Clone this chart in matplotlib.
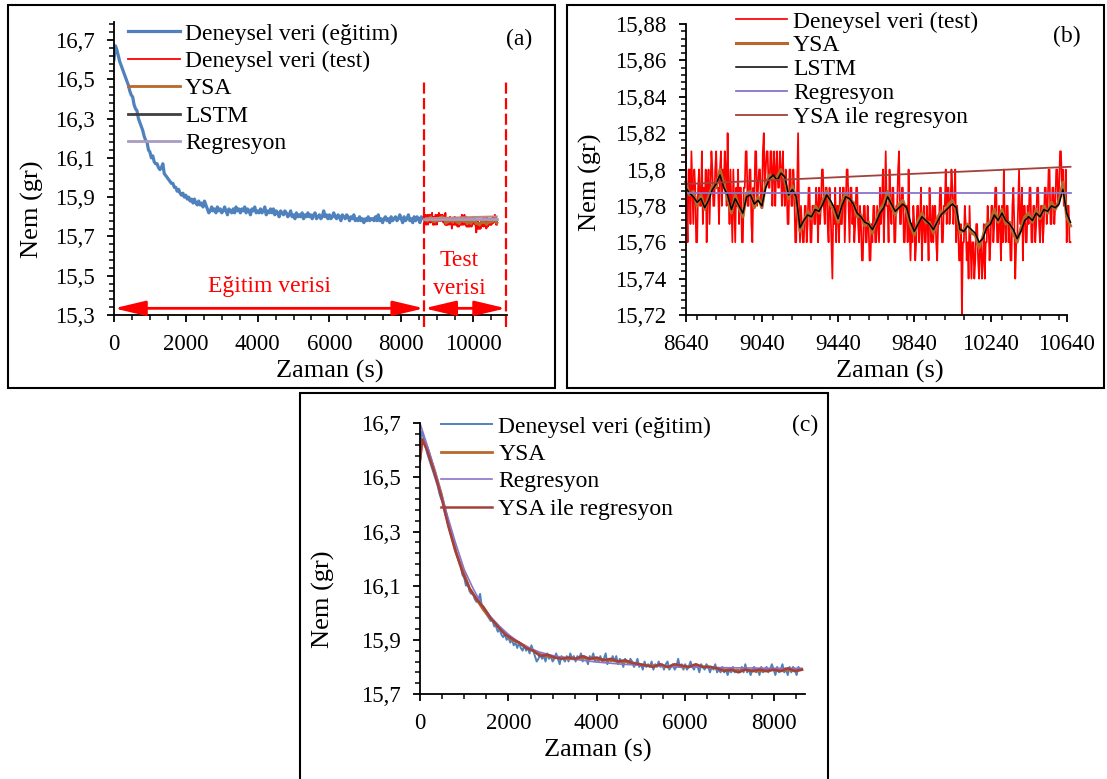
import numpy as np
import matplotlib
matplotlib.use("Agg")
import matplotlib.pyplot as plt
from matplotlib.patches import Rectangle
from matplotlib.ticker import FixedLocator, MultipleLocator, FuncFormatter

plt.rcParams["font.family"] = ["Liberation Serif", "DejaVu Serif"]

W, H = 1107, 779

# ---- training data (0-8640 s, every 40 s) ----
train_t = np.arange(0, 8641, 40)
train_vals = [
    16.60, 16.67, 16.65, 16.62, 16.59, 16.57, 16.55, 16.53, 16.51, 16.49,
    16.47, 16.44, 16.42, 16.41, 16.37, 16.35, 16.34, 16.30, 16.28, 16.26,
    16.24, 16.21, 16.19, 16.18, 16.14, 16.13, 16.10, 16.11, 16.08, 16.07,
    16.07, 16.05, 16.04, 16.05, 16.07, 16.02, 16.01, 16.00, 15.99, 15.98,
    15.97, 15.97, 15.95, 15.95, 15.93, 15.94, 15.92, 15.91, 15.92, 15.90,
    15.91, 15.89, 15.90, 15.88, 15.89, 15.87, 15.89, 15.87, 15.86, 15.88,
    15.86, 15.87, 15.85, 15.88, 15.86, 15.84, 15.82, 15.83, 15.85, 15.83,
    15.84, 15.82, 15.85, 15.83, 15.84, 15.82, 15.83, 15.85, 15.83, 15.81,
    15.84, 15.83, 15.82, 15.84, 15.82, 15.85, 15.83, 15.84, 15.82, 15.84,
    15.83, 15.85, 15.82, 15.84, 15.83, 15.81, 15.84, 15.83, 15.85, 15.82,
    15.83, 15.82, 15.84, 15.82, 15.83, 15.85, 15.81, 15.83, 15.82, 15.84,
    15.82, 15.84, 15.81, 15.83, 15.82, 15.80, 15.83, 15.82, 15.81, 15.83,
    15.82, 15.80, 15.81, 15.83, 15.80, 15.81, 15.79, 15.82, 15.80, 15.81,
    15.80, 15.82, 15.79, 15.81, 15.80, 15.82, 15.80, 15.81, 15.79, 15.81,
    15.82, 15.79, 15.80, 15.81, 15.79, 15.80, 15.83, 15.80, 15.81, 15.79,
    15.81, 15.79, 15.80, 15.82, 15.80, 15.79, 15.81, 15.80, 15.78, 15.81,
    15.80, 15.79, 15.81, 15.80, 15.78, 15.80, 15.79, 15.81, 15.78, 15.79,
    15.78, 15.80, 15.78, 15.79, 15.77, 15.79, 15.78, 15.80, 15.78, 15.79,
    15.79, 15.78, 15.80, 15.78, 15.81, 15.78, 15.79, 15.77, 15.79, 15.80,
    15.78, 15.79, 15.77, 15.80, 15.78, 15.79, 15.80, 15.78, 15.79, 15.81,
    15.79, 15.77, 15.80, 15.78, 15.79, 15.81, 15.78, 15.79, 15.77, 15.80,
    15.78, 15.80, 15.79, 15.77, 15.80, 15.79, 15.79,
]

# ---- models on training range (panel c) ----
fit_t = [0, 50] + list(range(160, 8641, 160))
ysa_reg_train = [
    16.56, 16.64,
    16.60, 16.52, 16.43, 16.32, 16.23, 16.15, 16.09, 16.05, 16.02,
    15.98, 15.95, 15.92, 15.905, 15.89, 15.87, 15.86, 15.84, 15.845, 15.835,
    15.83, 15.835, 15.83, 15.84, 15.83, 15.835, 15.825, 15.83, 15.82, 15.825,
    15.815, 15.81, 15.805, 15.80, 15.81, 15.80, 15.81, 15.805, 15.80, 15.81,
    15.80, 15.80, 15.795, 15.785, 15.79, 15.78, 15.79, 15.785, 15.79, 15.785,
    15.79, 15.785, 15.795, 15.785, 15.79,
]
ysa_train = [
    16.57, 16.64,
    16.61, 16.53, 16.44, 16.33, 16.23, 16.16, 16.09, 16.05, 16.01,
    15.98, 15.95, 15.925, 15.90, 15.89, 15.875, 15.86, 15.845, 15.84, 15.835,
    15.835, 15.83, 15.83, 15.835, 15.83, 15.83, 15.825, 15.825, 15.82, 15.82,
    15.815, 15.81, 15.805, 15.805, 15.805, 15.80, 15.805, 15.80, 15.80, 15.805,
    15.80, 15.80, 15.795, 15.79, 15.79, 15.785, 15.79, 15.785, 15.785, 15.785,
    15.79, 15.785, 15.79, 15.785, 15.79,
]
reg_train_t = [0, 200, 400, 600, 800, 1000, 1200, 1400, 1600, 1800, 2000, 2200,
               2400, 2700, 3000, 3500, 4000, 4500, 5000, 5500, 6000, 7000, 8000, 8640]
reg_train = [16.70, 16.60, 16.49, 16.37, 16.26, 16.16, 16.09, 16.03, 15.985, 15.95,
             15.92, 15.895, 15.875, 15.855, 15.842, 15.828, 15.818, 15.811, 15.806,
             15.802, 15.80, 15.797, 15.795, 15.795]

# ---- test data (8640-10660 s, every 5 s) ----
test_t = np.arange(8640, 10661, 5)
test_vals = [
    15.81, 15.78, 15.76, 15.80, 15.80, 15.77, 15.81, 15.79, 15.77, 15.80, 15.79, 15.76, 15.76, 15.79, 15.80, 15.78, 15.78, 15.81, 15.77, 15.79,
    15.78, 15.80, 15.76, 15.79, 15.80, 15.77, 15.79, 15.81, 15.80, 15.78, 15.78, 15.80, 15.81, 15.79, 15.79, 15.77, 15.80, 15.81, 15.78, 15.80,
    15.79, 15.81, 15.80, 15.78, 15.82, 15.79, 15.77, 15.80, 15.78, 15.76, 15.80, 15.78, 15.76, 15.79, 15.78, 15.80, 15.77, 15.79, 15.79, 15.76,
    15.76, 15.79, 15.79, 15.81, 15.81, 15.78, 15.78, 15.80, 15.80, 15.77, 15.76, 15.79, 15.78, 15.81, 15.81, 15.78, 15.79, 15.80, 15.80, 15.78,
    15.78, 15.81, 15.82, 15.79, 15.80, 15.81, 15.81, 15.79, 15.79, 15.81, 15.81, 15.78, 15.80, 15.81, 15.78, 15.80, 15.81, 15.79, 15.79, 15.81,
    15.80, 15.78, 15.81, 15.79, 15.78, 15.80, 15.79, 15.77, 15.77, 15.80, 15.80, 15.78, 15.78, 15.80, 15.79, 15.76, 15.76, 15.79, 15.82, 15.78,
    15.76, 15.78, 15.77, 15.76, 15.76, 15.78, 15.78, 15.76, 15.77, 15.79, 15.79, 15.76, 15.76, 15.78, 15.78, 15.77, 15.77, 15.79, 15.78, 15.76,
    15.79, 15.77, 15.78, 15.80, 15.80, 15.78, 15.77, 15.79, 15.79, 15.77, 15.76, 15.79, 15.78, 15.76, 15.74, 15.78, 15.77, 15.79, 15.76, 15.78,
    15.78, 15.76, 15.79, 15.77, 15.77, 15.79, 15.79, 15.76, 15.78, 15.80, 15.80, 15.78, 15.76, 15.79, 15.79, 15.77, 15.78, 15.76, 15.77, 15.79,
    15.79, 15.77, 15.76, 15.78, 15.77, 15.75, 15.75, 15.78, 15.78, 15.76, 15.76, 15.78, 15.77, 15.75, 15.75, 15.77, 15.76, 15.78, 15.78, 15.76,
    15.76, 15.78, 15.77, 15.76, 15.79, 15.77, 15.78, 15.80, 15.76, 15.78, 15.81, 15.78, 15.78, 15.76, 15.80, 15.78, 15.77, 15.79, 15.79, 15.76,
    15.76, 15.78, 15.78, 15.80, 15.81, 15.77, 15.77, 15.79, 15.79, 15.76, 15.76, 15.78, 15.78, 15.76, 15.80, 15.77, 15.75, 15.77, 15.76, 15.78,
    15.77, 15.75, 15.76, 15.78, 15.78, 15.76, 15.77, 15.79, 15.75, 15.77, 15.78, 15.76, 15.76, 15.78, 15.77, 15.75, 15.79, 15.77, 15.76, 15.78,
    15.76, 15.78, 15.78, 15.76, 15.75, 15.77, 15.77, 15.79, 15.79, 15.76, 15.76, 15.78, 15.78, 15.80, 15.77, 15.79, 15.79, 15.77, 15.78, 15.80,
    15.79, 15.77, 15.78, 15.80, 15.76, 15.78, 15.77, 15.75, 15.75, 15.77, 15.72, 15.76, 15.76, 15.78, 15.77, 15.75, 15.76, 15.74, 15.78, 15.76,
    15.74, 15.76, 15.76, 15.74, 15.75, 15.77, 15.77, 15.75, 15.74, 15.76, 15.76, 15.74, 15.75, 15.77, 15.74, 15.76, 15.76, 15.78, 15.77, 15.75,
    15.76, 15.78, 15.78, 15.76, 15.77, 15.79, 15.79, 15.76, 15.76, 15.78, 15.77, 15.75, 15.78, 15.76, 15.80, 15.77, 15.76, 15.78, 15.78, 15.76,
    15.77, 15.75, 15.75, 15.78, 15.79, 15.77, 15.74, 15.76, 15.76, 15.78, 15.80, 15.77, 15.77, 15.79, 15.75, 15.78, 15.78, 15.76, 15.76, 15.78,
    15.77, 15.79, 15.79, 15.76, 15.76, 15.78, 15.78, 15.76, 15.77, 15.79, 15.79, 15.77, 15.76, 15.78, 15.78, 15.76, 15.77, 15.79, 15.79, 15.77,
    15.78, 15.80, 15.80, 15.77, 15.77, 15.79, 15.79, 15.77, 15.78, 15.80, 15.80, 15.78, 15.79, 15.81, 15.81, 15.79, 15.80, 15.78, 15.78, 15.80,
    15.76, 15.78, 15.78, 15.76, 15.76,
]

# ---- models on test range (every 20 s) ----
pred_t = np.arange(8640, 10661, 20)
lstm_test = [
    15.790, 15.787, 15.785, 15.782, 15.784, 15.779, 15.783, 15.789, 15.792, 15.797,
    15.790, 15.786, 15.778, 15.784, 15.780, 15.776, 15.785, 15.786, 15.781, 15.783,
    15.780, 15.790, 15.795, 15.797, 15.794, 15.798, 15.796, 15.786, 15.789, 15.785,
    15.768, 15.772, 15.775, 15.774, 15.778, 15.777, 15.781, 15.786, 15.783, 15.779,
    15.773, 15.780, 15.785, 15.784, 15.781, 15.776, 15.774, 15.771, 15.770, 15.767,
    15.771, 15.776, 15.779, 15.785, 15.781, 15.777, 15.779, 15.781, 15.779, 15.771,
    15.766, 15.770, 15.774, 15.772, 15.770, 15.767, 15.771, 15.775, 15.777, 15.779,
    15.781, 15.779, 15.767, 15.766, 15.769, 15.767, 15.765, 15.760, 15.762, 15.768,
    15.770, 15.775, 15.772, 15.776, 15.772, 15.770, 15.767, 15.762, 15.766, 15.772,
    15.774, 15.772, 15.776, 15.774, 15.778, 15.777, 15.780, 15.779, 15.781, 15.789,
    15.776, 15.771,
]
ysa_test = [
    15.793, 15.786, 15.788, 15.780, 15.786, 15.778, 15.785, 15.791, 15.790, 15.800,
    15.792, 15.784, 15.776, 15.786, 15.779, 15.774, 15.787, 15.788, 15.779, 15.785,
    15.779, 15.792, 15.797, 15.795, 15.796, 15.800, 15.794, 15.784, 15.791, 15.783,
    15.766, 15.771, 15.777, 15.773, 15.780, 15.776, 15.783, 15.788, 15.781, 15.777,
    15.771, 15.782, 15.787, 15.783, 15.782, 15.774, 15.775, 15.769, 15.771, 15.765,
    15.772, 15.778, 15.781, 15.788, 15.780, 15.775, 15.781, 15.783, 15.777, 15.769,
    15.764, 15.772, 15.776, 15.771, 15.771, 15.765, 15.773, 15.777, 15.776, 15.781,
    15.783, 15.777, 15.765, 15.767, 15.770, 15.765, 15.764, 15.757, 15.763, 15.770,
    15.771, 15.778, 15.771, 15.778, 15.770, 15.771, 15.765, 15.760, 15.768, 15.774,
    15.776, 15.771, 15.778, 15.773, 15.780, 15.776, 15.782, 15.778, 15.783, 15.793,
    15.774, 15.769,
]
reg_test_t = [8640, 10660]
reg_test = [15.787, 15.787]
ysa_reg_test = [15.792, 15.8015]

# ---- axis ticks ----
a_xticks = [0, 2000, 4000, 6000, 8000, 10000]
a_yticks = [15.3, 15.5, 15.7, 15.9, 16.1, 16.3, 16.5, 16.7]
b_xticks = [8640, 9040, 9440, 9840, 10240, 10640]
b_yticks = [15.72, 15.74, 15.76, 15.78, 15.80, 15.82, 15.84, 15.86, 15.88]
c_xticks = [0, 2000, 4000, 6000, 8000]
c_yticks = [15.7, 15.9, 16.1, 16.3, 16.5, 16.7]

BLUE = "#4F81BD"
RED = "#FF0000"
BROWN = "#B8682A"
PURPLE = "#8B73C9"
DARKRED = "#A3403A"

TICK_FS = 16.5
LABEL_FS = 19
LEG_FS = 17


def comma(v, pos):
    s = ("%.3f" % v).rstrip("0").rstrip(".")
    return s.replace(".", ",")


def px_axes(fig, x0, x1, y0, y1):
    # x0,x1,y0,y1 in image pixels (y from top)
    return fig.add_axes([x0 / W, 1 - y1 / H, (x1 - x0) / W, (y1 - y0) / H])


def style(ax, xt, yt, xminor, yminor):
    for s in ["top", "right"]:
        ax.spines[s].set_visible(False)
    for s in ["left", "bottom"]:
        ax.spines[s].set_linewidth(1.3)
    ax.xaxis.set_major_locator(FixedLocator(xt))
    ax.yaxis.set_major_locator(FixedLocator(yt))
    ax.xaxis.set_minor_locator(xminor)
    ax.yaxis.set_minor_locator(yminor)
    ax.yaxis.set_major_formatter(FuncFormatter(comma))
    ax.tick_params(which="major", direction="out", length=5, width=1.3,
                   labelsize=TICK_FS, pad=9)
    ax.tick_params(which="minor", direction="out", length=3.5, width=1.1)


def text_px(fig, x, y, s, **kw):
    fig.text(x / W, 1 - y / H, s, **kw)


fig = plt.figure(figsize=(W / 100, H / 100), dpi=100)

# panel frames
for x0, y0, x1, y1 in [(8, 5, 555, 388), (567, 5, 1104, 388), (300, 393, 828, 795)]:
    fig.add_artist(Rectangle((x0 / W, 1 - y1 / H), (x1 - x0) / W, (y1 - y0) / H,
                             transform=fig.transFigure, fill=False, lw=1.5,
                             ec="black", clip_on=False))

# ---------------- (a) ----------------
ax = px_axes(fig, 114, 507.5, 22.3, 315)
ax.plot(train_t, train_vals, color=BLUE, lw=2.3, label="Deneysel veri (eğitim)")
ax.plot(test_t, test_vals, color=RED, lw=1.3, label="Deneysel veri (test)")
ax.plot(pred_t, ysa_test, color=BROWN, lw=2.0, label="YSA")
ax.plot(pred_t, lstm_test, color="#404040", lw=2.0, label="LSTM", zorder=1.9)
ax.plot(reg_test_t, reg_test, color="#A99BC4", lw=2.0, label="Regresyon")
ax.plot(reg_test_t, ysa_reg_test, color="#B98A8A", lw=1.5)
ax.set_xlim(0, 10960)
ax.set_ylim(15.3, 16.79)
style(ax, a_xticks, a_yticks, MultipleLocator(500), FixedLocator(np.arange(15.3, 16.8, 0.04)))
for xv in [8640, 10920]:
    ax.plot([xv, xv], [15.239, 16.486], color=RED, lw=1.6, ls=(0, (5, 2)), clip_on=False)
arrow = dict(arrowstyle="<|-|>,head_length=1.9,head_width=0.45", mutation_scale=10,
             color=RED, lw=2, shrinkA=0, shrinkB=0)
ax.annotate("", xy=(0, 15.334), xytext=(8640, 15.334), arrowprops=arrow)
ax.annotate("", xy=(8640, 15.334), xytext=(10920, 15.334), arrowprops=arrow)
ax.legend(loc="upper left", bbox_to_anchor=(128 / W, 1 - 23 / H),
          bbox_transform=fig.transFigure, frameon=False, fontsize=LEG_FS,
          borderpad=0, borderaxespad=0, handlelength=2.19, handletextpad=0.22,
          labelspacing=0.25)
text_px(fig, 519, 39, "(a)", fontsize=LEG_FS, ha="center", va="center")
text_px(fig, 269.5, 286, "Eğitim verisi", fontsize=LEG_FS, color=RED, ha="center", va="center")
text_px(fig, 459.6, 260, "Test", fontsize=LEG_FS, color=RED, ha="center", va="center")
text_px(fig, 459.6, 288, "verisi", fontsize=LEG_FS, color=RED, ha="center", va="center")
text_px(fig, 329.5, 371, "Zaman (s)", fontsize=LABEL_FS, ha="center", va="center")
text_px(fig, 32, 209, "Nem (gr)", fontsize=LABEL_FS, ha="center", va="center", rotation=90)

# ---------------- (b) ----------------
ax = px_axes(fig, 685.7, 1066.7, 24, 315)
ax.plot(test_t, test_vals, color=RED, lw=1.25, label="Deneysel veri (test)", clip_on=False)
ax.plot(pred_t, ysa_test, color=BROWN, lw=2.2, label="YSA", clip_on=False)
ax.plot(pred_t, lstm_test, color="black", lw=1.1, label="LSTM", clip_on=False)
ax.plot(reg_test_t, reg_test, color=PURPLE, lw=1.3, label="Regresyon", clip_on=False)
ax.plot(reg_test_t, ysa_reg_test, color=DARKRED, lw=1.3, label="YSA ile regresyon", clip_on=False)
ax.set_xlim(8640, 10640)
ax.set_ylim(15.72, 15.88)
style(ax, b_xticks, b_yticks, MultipleLocator(100), MultipleLocator(0.004))
ax.legend(loc="upper left", bbox_to_anchor=(736 / W, 1 - 11 / H),
          bbox_transform=fig.transFigure, frameon=False, fontsize=LEG_FS,
          borderpad=0, borderaxespad=0, handlelength=2.14, handletextpad=0.27,
          labelspacing=0.1)
text_px(fig, 1067, 36, "(b)", fontsize=LEG_FS, ha="center", va="center")
text_px(fig, 889.7, 371, "Zaman (s)", fontsize=LABEL_FS, ha="center", va="center")
text_px(fig, 590, 182, "Nem (gr)", fontsize=LABEL_FS, ha="center", va="center", rotation=90)

# ---------------- (c) ----------------
ax = px_axes(fig, 420, 805, 423.3, 694)
ax.plot(train_t, train_vals, color=BLUE, lw=1.4, label="Deneysel veri (eğitim)")
ax.plot(fit_t, ysa_train, color=BROWN, lw=2.0, label="YSA")
ax.plot(reg_train_t, reg_train, color=PURPLE, lw=1.2, label="Regresyon")
ax.plot(fit_t, ysa_reg_train, color=DARKRED, lw=1.8, label="YSA ile regresyon")
ax.set_xlim(0, 8710)
ax.set_ylim(15.7, 16.7)
style(ax, c_xticks, c_yticks, MultipleLocator(500), FixedLocator(np.arange(15.7, 16.71, 0.04)))
ax.legend(loc="upper left", bbox_to_anchor=(441 / W, 1 - 416 / H),
          bbox_transform=fig.transFigure, frameon=False, fontsize=LEG_FS,
          borderpad=0, borderaxespad=0, handlelength=2.18, handletextpad=0.25,
          labelspacing=0.25)
text_px(fig, 805, 425, "(c)", fontsize=LEG_FS, ha="center", va="center")
text_px(fig, 597.4, 750, "Zaman (s)", fontsize=LABEL_FS, ha="center", va="center")
text_px(fig, 323, 599, "Nem (gr)", fontsize=LABEL_FS, ha="center", va="center", rotation=90)

fig.savefig("out.png", dpi=100)
plt.close(fig)
